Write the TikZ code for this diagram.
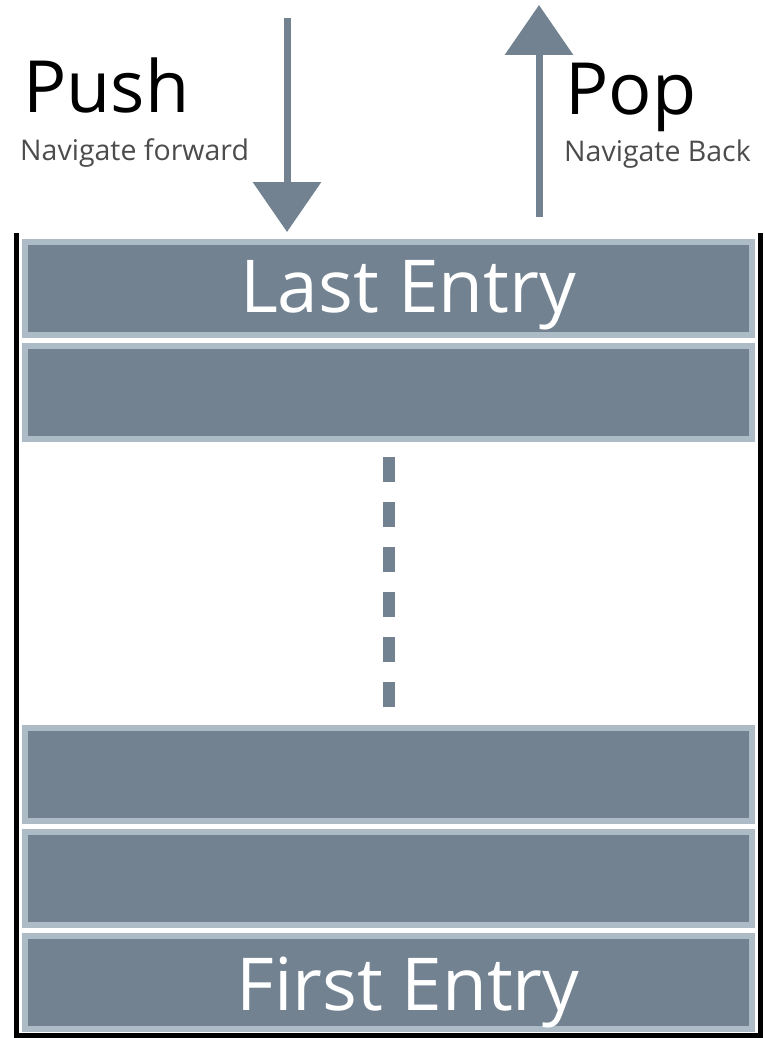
\documentclass[tikz,border=0pt]{standalone}
\usepackage{fontspec}
\setmainfont{Open Sans}
\usetikzlibrary{positioning,arrows.meta}
\definecolor{slate}{RGB}{114,130,145}
\definecolor{rim}{RGB}{173,187,199}

\begin{document}
\begin{tikzpicture}[x=1pt, y=-1pt, node distance=5pt,
    entry/.style={draw=rim, line width=6pt, fill=slate, minimum width=727pt, minimum height=93pt, inner sep=0pt},
    entrytext/.style={text=white, font=\fontsize{73}{88}\selectfont, inner sep=0pt, anchor=base},
    title/.style={font=\fontsize{72}{86}\selectfont, inner sep=0pt, anchor=base west},
    subtitle/.style={text=black!70, font=\fontsize{28.5}{34}\selectfont, inner sep=0pt, anchor=base west},
    flow/.style={draw=slate, line width=7pt, -{Triangle[width=67pt,length=50pt]}}]
	\useasboundingbox (0,0) rectangle (764,1038);

	% the stack
	\node[entry] (last) at (388.5,288.5) {};
	\node[entry, below=of last] (second) {};
	\node[entry] (third) at (388.5,774.5) {};
	\node[entry, below=of third] (fourth) {};
	\node[entry, below=of fourth] (first) {};
	\draw[line width=5pt] (16.5,233) -- (16.5,1035.5) -- (760,1035.5) -- (760,233);

	\node[entrytext] (lasttext) at (408,312) {Last Entry};
	\node[entrytext] (firsttext) at (408,1010) {First Entry};

	\draw[slate, line width=12pt, dash pattern=on 25pt off 20pt, shorten <=15pt, shorten >=18pt] (second.south) -- (third.north);

	% push and pop
	\node[title] (push) at (23,113) {Push};
	\node[subtitle] (pushsub) at (20,160) {Navigate forward};
	\node[title] (pop) at (565,115) {Pop};
	\node[subtitle] (popsub) at (564,161) {Navigate Back};

	\coordinate (pushfrom) at (287,18);
	\coordinate (popto) at (539,5);
	\draw[flow, shorten >=7pt] (pushfrom) -- (pushfrom |- last.north);
	\draw[flow, shorten <=22pt] (popto |- last.north) -- (popto);
\end{tikzpicture}
\end{document}
